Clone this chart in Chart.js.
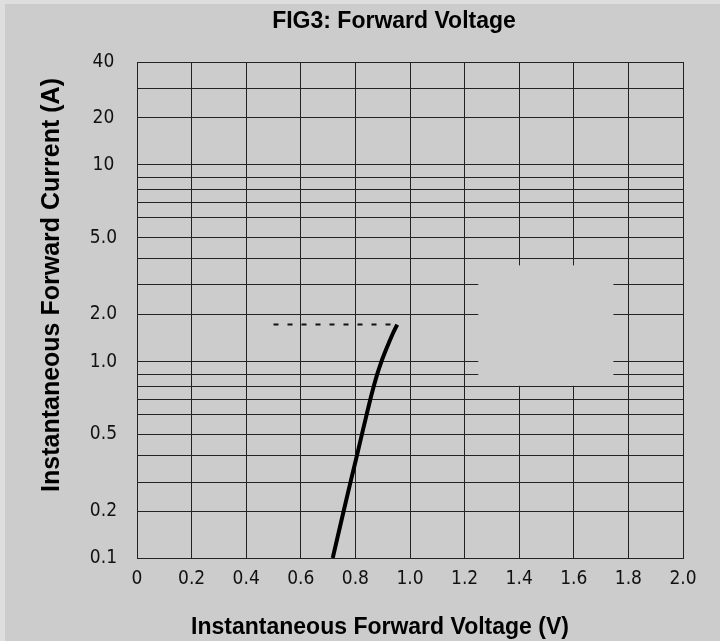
<!DOCTYPE html>
<html>
<head>
<meta charset="utf-8">
<title>FIG3: Forward Voltage</title>
<script src="https://cdn.jsdelivr.net/npm/chart.js@4.4.0/dist/chart.umd.min.js"></script>
<style>
  html, body { margin: 0; background: #dedede; }
  #wrap { position: absolute; left: 5px; top: 4px; width: 715px; height: 637px; background: #cccccc; }
</style>
</head>
<body>
<div id="wrap"><canvas id="fig3"></canvas></div>
<script>
// forward characteristic (V, A)
const voltage = [0.717, 0.757, 0.782, 0.806, 0.824, 0.841, 0.855, 0.867, 0.880, 0.895, 0.912, 0.938, 0.953];
const current = [0.1, 0.2, 0.3, 0.4, 0.5, 0.6, 0.7, 0.8, 0.9, 1.0, 1.19, 1.52, 1.72];

// the broken dashed marker at the top of the curve
const markerVoltage = [0.5, 0.95];
const markerCurrent = [1.72, 1.72];

const xTicks = [0, 0.2, 0.4, 0.6, 0.8, 1.0, 1.2, 1.4, 1.6, 1.8, 2.0];
const yLabels = [0.1, 0.2, 0.5, 1, 2, 5, 10, 20, 40];
const yGrid = [0.1, 0.2, 0.3, 0.4, 0.5, 0.6, 0.7, 0.8, 0.9, 1, 2, 3, 4, 5, 6, 7, 8, 9, 10, 20, 30, 40];

// the log paper on the sheet isn't evenly spaced, so each grid line gets its own spot (0 bottom .. 1 top)
const yGridPos = [0, 0.0947, 0.153, 0.2075, 0.2498, 0.2887, 0.3204, 0.3458, 0.3707, 0.3955,
  0.4916, 0.5507, 0.6045, 0.646, 0.6857, 0.7165, 0.742, 0.7677, 0.7925, 0.8872, 0.9462, 1];

function warp(v) {
  const lv = Math.log10(v);
  let i = 0;
  while (i < yGrid.length - 2 && lv > Math.log10(yGrid[i + 1])) i++;
  const a = Math.log10(yGrid[i]), b = Math.log10(yGrid[i + 1]);
  const t = (lv - a) / (b - a);
  return yGridPos[i] + t * (yGridPos[i + 1] - yGridPos[i]);
}

function unwarp(d) {
  let i = 0;
  while (i < yGridPos.length - 2 && d > yGridPos[i + 1]) i++;
  const t = (d - yGridPos[i]) / (yGridPos[i + 1] - yGridPos[i]);
  const a = Math.log10(yGrid[i]), b = Math.log10(yGrid[i + 1]);
  return Math.pow(10, a + t * (b - a));
}

const LogScale = Chart.registry.getScale('logarithmic');

class SheetLogScale extends LogScale {
  static id = 'sheetlog';
  static defaults = {};
  getPixelForValue(value) {
    return this.getPixelForDecimal(warp(value));
  }
  getValueForPixel(pixel) {
    return unwarp(this.getDecimalForPixel(pixel));
  }
}
Chart.register(SheetLogScale);

// empty box on the sheet where the grid is blanked out
const blankBox = { x0: 1.25, x1: 1.745, y0: 3.7, y1: 0.805 };

const blankPlugin = {
  id: 'blankBox',
  beforeDatasetsDraw(chart) {
    const { ctx, scales: { x, y } } = chart;
    const l = x.getPixelForValue(blankBox.x0), r = x.getPixelForValue(blankBox.x1);
    const t = y.getPixelForValue(blankBox.y0), b = y.getPixelForValue(blankBox.y1);
    ctx.save();
    ctx.fillStyle = '#cccccc';
    ctx.fillRect(l, t, r - l, b - t);
    ctx.restore();
  }
};

const titlePlugin = {
  id: 'sheetTitles',
  afterDraw(chart) {
    const ctx = chart.ctx;
    ctx.save();
    ctx.fillStyle = '#000';
    ctx.textAlign = 'center';
    ctx.textBaseline = 'alphabetic';
    ctx.font = 'bold 23px "Liberation Sans", Arial, sans-serif';
    ctx.fillText('FIG3: Forward Voltage', 389, 24);
    ctx.fillText('Instantaneous Forward Voltage (V)', 375, 630);
    ctx.font = 'bold 25px "Liberation Sans", Arial, sans-serif';
    ctx.translate(54, 281);
    ctx.rotate(-Math.PI / 2);
    ctx.fillText('Instantaneous Forward Current (A)', 0, 0);
    ctx.restore();
  }
};

const tickFont = { family: '"DejaVu Sans Condensed", "Liberation Sans Narrow", "Liberation Sans", sans-serif', size: 19 };
const gridColor = '#222222';

new Chart(document.getElementById('fig3'), {
  type: 'line',
  data: {
    datasets: [{
      data: voltage.map((v, i) => ({ x: v, y: current[i] })),
      borderColor: '#000000',
      borderWidth: 4,
      pointRadius: 0,
      cubicInterpolationMode: 'monotone'
    }, {
      data: markerVoltage.map((v, i) => ({ x: v, y: markerCurrent[i] })),
      borderColor: '#111111',
      borderWidth: 2,
      borderDash: [5, 9],
      pointRadius: 0
    }]
  },
  options: {
    responsive: true,
    maintainAspectRatio: false,
    animation: false,
    layout: { padding: { top: 58, right: 37, left: 0, bottom: 0 } },
    plugins: {
      legend: { display: false },
      tooltip: { enabled: false },
      title: { display: false }
    },
    scales: {
      x: {
        type: 'linear',
        min: 0,
        max: 2,
        afterBuildTicks: s => { s.ticks = xTicks.map(v => ({ value: v })); },
        afterFit: s => { s.height = 83; },
        ticks: {
          autoSkip: false,
          maxRotation: 0,
          padding: 10,
          color: '#111',
          font: tickFont,
          callback: v => v === 0 ? '0' : v.toFixed(1)
        },
        grid: { color: gridColor, lineWidth: 1, drawTicks: false },
        border: { display: true, color: gridColor }
      },
      y: {
        type: 'sheetlog',
        min: 0.1,
        max: 40,
        afterBuildTicks: s => { s.ticks = yGrid.map(v => ({ value: v })); },
        afterFit: s => { s.width = 132; },
        ticks: {
          autoSkip: false,
          crossAlign: 'center',
          padding: 20,
          color: '#111',
          font: tickFont,
          callback: v => yLabels.includes(v) ? (v >= 10 ? String(v) : v.toFixed(1)) : ''
        },
        grid: { color: gridColor, lineWidth: 1, drawTicks: false },
        border: { display: true, color: gridColor }
      }
    }
  },
  plugins: [blankPlugin, titlePlugin]
});
</script>
</body>
</html>
